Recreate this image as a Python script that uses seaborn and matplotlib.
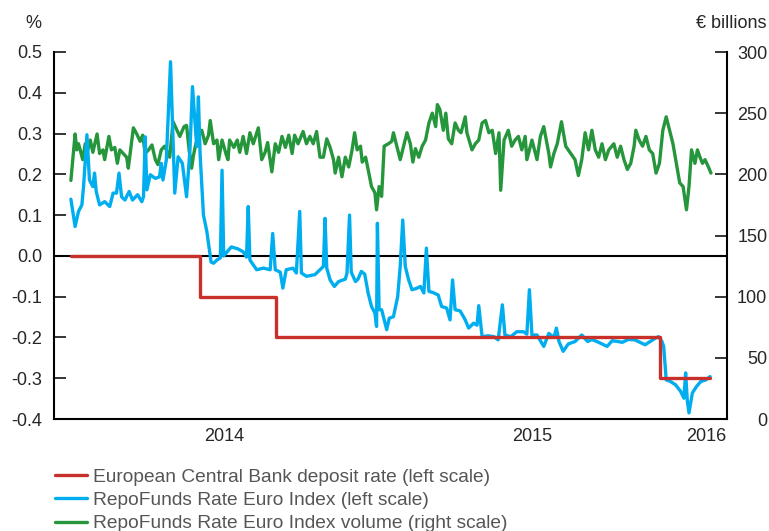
import pandas as pd
import matplotlib
matplotlib.use("Agg")
import matplotlib.pyplot as plt
import matplotlib.dates as mdates
from matplotlib.lines import Line2D
from matplotlib.ticker import FixedLocator, FuncFormatter, NullFormatter
import seaborn as sns

sns.set_style("white")
plt.rcParams['font.family'] = ['Liberation Sans', 'DejaVu Sans']
plt.rcParams['axes.unicode_minus'] = False

# === DATA ===
START = pd.Timestamp("2014-01-01")

# ECB deposit rate, % (step changes)
ECB_DAYS = [0, 153, 243, 698, 757]
ECB_RATE = [0.0, -0.1, -0.2, -0.3, -0.3]

# RepoFunds Rate Euro Index, %
REPO_DAYS = [
    0, 5, 9, 13, 15, 19, 22, 26, 28, 30,
    34, 40, 46, 50, 54, 57, 60, 64, 69, 73,
    79, 84, 86, 88, 90, 94, 100, 105, 107, 109,
    113, 118, 123, 127, 132, 137, 141, 144, 149, 151,
    153, 157, 161, 166, 169, 173, 177, 179, 181, 185,
    190, 198, 204, 208, 210, 212, 220, 228, 236, 239,
    242, 248, 251, 255, 263, 267, 271, 273, 279, 289,
    295, 299, 301, 303, 307, 312, 317, 325, 327, 330,
    332, 337, 340, 344, 348, 352, 356, 360, 362, 363,
    365, 368, 371, 374, 377, 382, 387, 390, 393, 396,
    400, 404, 409, 414, 418, 421, 424, 429, 435, 439,
    445, 449, 452, 455, 461, 467, 471, 477, 481, 483,
    487, 494, 501, 506, 511, 514, 521, 528, 536, 540,
    543, 546, 552, 560, 566, 572, 575, 578, 583, 589,
    597, 605, 612, 617, 623, 635, 641, 648, 653, 660,
    668, 674, 680, 686, 692, 696, 700, 702, 705, 710,
    716, 722, 726, 728, 730, 732, 736, 741, 746, 752,
    757,
]
REPO_RATE = [
    0.139, 0.072, 0.109, 0.125, 0.170, 0.297, 0.186, 0.170, 0.203, 0.158,
    0.125, 0.133, 0.121, 0.154, 0.154, 0.203, 0.145, 0.137, 0.158, 0.137,
    0.150, 0.133, 0.145, 0.292, 0.162, 0.199, 0.190, 0.194, 0.227, 0.186,
    0.235, 0.476, 0.154, 0.243, 0.227, 0.145, 0.260, 0.415, 0.268, 0.390,
    0.250, 0.100, 0.060, -0.015, -0.018, -0.010, -0.005, 0.210, 0.000, 0.010,
    0.022, 0.017, 0.010, -0.003, 0.121, -0.010, -0.034, -0.030, -0.034, 0.055,
    -0.034, -0.040, -0.079, -0.034, -0.030, -0.042, 0.109, -0.042, -0.050, -0.046,
    -0.034, -0.026, 0.092, -0.030, -0.059, -0.075, -0.063, -0.057, -0.042, 0.100,
    -0.040, -0.063, -0.057, -0.038, -0.045, -0.091, -0.124, -0.140, -0.173, 0.080,
    -0.132, -0.132, -0.157, -0.181, -0.153, -0.149, -0.100, -0.026, 0.088, -0.026,
    -0.059, -0.083, -0.080, -0.075, -0.091, 0.019, -0.087, -0.090, -0.096, -0.124,
    -0.128, -0.157, -0.059, -0.132, -0.135, -0.157, -0.177, -0.165, -0.170, -0.122,
    -0.198, -0.196, -0.198, -0.206, -0.120, -0.194, -0.198, -0.186, -0.186, -0.192,
    -0.083, -0.194, -0.194, -0.222, -0.190, -0.200, -0.177, -0.210, -0.234, -0.216,
    -0.210, -0.194, -0.210, -0.205, -0.210, -0.222, -0.208, -0.210, -0.212, -0.205,
    -0.206, -0.212, -0.218, -0.210, -0.202, -0.198, -0.210, -0.222, -0.304, -0.308,
    -0.316, -0.332, -0.349, -0.287, -0.355, -0.385, -0.336, -0.320, -0.308, -0.304,
    -0.296,
]

# RepoFunds Rate Euro Index volume, EUR billions
VOL_DAYS = [
    0, 5, 7, 9, 11, 14, 17, 20, 23, 26,
    31, 34, 38, 40, 45, 48, 52, 55, 58, 62,
    66, 68, 74, 78, 82, 85, 88, 92, 96, 100,
    103, 107, 111, 115, 117, 121, 125, 129, 134, 137,
    140, 143, 145, 148, 151, 155, 159, 163, 165, 169,
    173, 175, 179, 184, 186, 188, 193, 197, 200, 204,
    208, 212, 216, 222, 226, 230, 233, 238, 242, 246,
    250, 254, 258, 262, 265, 269, 275, 279, 283, 287,
    291, 295, 299, 303, 307, 311, 313, 317, 321, 325,
    329, 333, 336, 339, 343, 345, 349, 352, 356, 360,
    362, 365, 368, 371, 376, 380, 382, 386, 390, 394,
    398, 402, 405, 408, 412, 416, 420, 424, 428, 432,
    434, 437, 441, 444, 447, 451, 455, 459, 462, 467,
    469, 475, 479, 483, 487, 491, 495, 499, 503, 507,
    509, 513, 518, 522, 526, 530, 534, 538, 540, 546,
    552, 556, 560, 566, 568, 572, 576, 581, 586, 592,
    597, 601, 605, 609, 613, 617, 621, 625, 629, 633,
    637, 643, 647, 651, 655, 659, 663, 667, 669, 673,
    677, 681, 685, 689, 693, 697, 701, 705, 709, 713,
    717, 721, 725, 729, 732, 735, 739, 742, 745, 748,
    751, 755, 758,
]
VOL_EUR_BN = [
    195, 233, 220, 225, 220, 212, 225, 220, 228, 218,
    233, 217, 220, 212, 231, 220, 222, 209, 220, 217,
    214, 205, 238, 233, 227, 232, 217, 220, 224, 212,
    208, 220, 223, 217, 214, 243, 237, 231, 239, 240,
    220, 205, 215, 225, 231, 236, 225, 232, 244, 225,
    228, 212, 228, 216, 212, 228, 222, 228, 218, 231,
    217, 234, 225, 238, 212, 218, 226, 202, 225, 218,
    231, 222, 232, 217, 232, 225, 235, 225, 231, 225,
    235, 214, 214, 229, 222, 212, 201, 214, 198, 214,
    206, 220, 234, 220, 223, 210, 214, 204, 190, 185,
    171, 190, 182, 223, 225, 227, 234, 223, 212, 223,
    234, 225, 210, 221, 214, 223, 228, 242, 250, 239,
    257, 253, 236, 250, 229, 225, 242, 236, 234, 247,
    234, 220, 225, 228, 242, 244, 234, 236, 217, 234,
    187, 228, 236, 223, 228, 231, 220, 231, 212, 228,
    212, 231, 239, 217, 206, 217, 225, 243, 223, 217,
    212, 199, 212, 234, 220, 236, 220, 214, 225, 212,
    220, 225, 214, 223, 212, 204, 209, 223, 236, 228,
    223, 231, 220, 217, 201, 209, 236, 247, 236, 225,
    209, 193, 190, 171, 190, 220, 209, 220, 214, 209,
    212, 206, 201,
]

YEAR_LABELS = ["2014", "2015", "2016"]
YEAR_LABEL_DATES = ["2014-07-01", "2015-07-01", "2016-01-24"]

LEGEND_LABELS = [
    "European Central Bank deposit rate (left scale)",
    "RepoFunds Rate Euro Index (left scale)",
    "RepoFunds Rate Euro Index volume (right scale)",
]

RED = "#c8312b"
BLUE = "#00aeef"
GREEN = "#26963c"
TEXT_GREY = "#555555"


def to_frame(days, values):
    return pd.DataFrame({"date": START + pd.to_timedelta(days, unit="D"), "value": values})


ecb = to_frame(ECB_DAYS, ECB_RATE)
repo = to_frame(REPO_DAYS, REPO_RATE)
vol = to_frame(VOL_DAYS, VOL_EUR_BN)

# === FIGURE ===
fig = plt.figure(figsize=(7.69, 5.31), dpi=100)
ax = fig.add_axes([54 / 769, 1 - 419 / 531, (727 - 54) / 769, (419 - 52) / 531])
ax2 = ax.twinx()

sns.lineplot(data=vol, x="date", y="value", ax=ax2, color=GREEN, linewidth=2.4)
ax.axhline(0, color="black", linewidth=1.5, zorder=1)
sns.lineplot(data=repo, x="date", y="value", ax=ax, color=BLUE, linewidth=2.4, zorder=2)
sns.lineplot(data=ecb, x="date", y="value", ax=ax, color=RED, linewidth=2.4,
             drawstyle="steps-post", zorder=3)

# left axis on top of the right one
ax.set_zorder(ax2.get_zorder() + 1)
ax.patch.set_visible(False)

ax.set_xlim(START - pd.Timedelta(days=20), START + pd.Timedelta(days=777))
ax.set_ylim(-0.4, 0.5)
ax2.set_ylim(0, 300)
for a in (ax, ax2):
    a.set_xlabel("")
    a.set_ylabel("")

ax.yaxis.set_major_locator(FixedLocator([-0.4 + 0.1 * i for i in range(10)]))
ax.yaxis.set_major_formatter(FuncFormatter(lambda v, p: f"{v:.1f}".replace("-0.0", "0.0")))
ax2.yaxis.set_major_locator(FixedLocator(range(0, 301, 50)))

ax.xaxis.set_major_locator(mdates.YearLocator())
ax.xaxis.set_minor_locator(mdates.MonthLocator())
ax.xaxis.set_major_formatter(NullFormatter())
ax.xaxis.set_minor_formatter(NullFormatter())

ax.tick_params(axis="x", which="major", direction="in", length=8, width=1.1, color="black")
ax.tick_params(axis="x", which="minor", direction="in", length=4.3, width=1.1, color="black")
ax.tick_params(axis="y", direction="in", length=8.8, width=1.1, color="black",
               pad=8.5, labelsize=13, left=True)
ax2.tick_params(axis="y", direction="in", length=8.8, width=1.1, color="black",
                pad=29, labelsize=13, right=True)
for lab in ax2.get_yticklabels():
    lab.set_horizontalalignment("right")

for s in ("top", "right"):
    ax.spines[s].set_visible(False)
for s in ("top", "left", "bottom"):
    ax2.spines[s].set_visible(False)
for a, s in ((ax, "left"), (ax, "bottom"), (ax2, "right")):
    a.spines[s].set_color("black")
    a.spines[s].set_linewidth(1.5)

for lab, d in zip(YEAR_LABELS, YEAR_LABEL_DATES):
    ax.text(pd.Timestamp(d), -0.049, lab, transform=ax.get_xaxis_transform(),
            ha="center", va="center", fontsize=13)

fig.text(33 / 769, 1 - 23 / 531, "%", ha="center", va="center", fontsize=13)
fig.text(767 / 769, 1 - 23 / 531, "€ billions", ha="right", va="center", fontsize=13)

handles = [Line2D([], [], color=c, linewidth=2.4) for c in (RED, BLUE, GREEN)]
fig.legend(handles, LEGEND_LABELS, loc="upper left",
           bbox_to_anchor=(55 / 769, 1 - 468.5 / 531), frameon=False,
           borderpad=0, borderaxespad=0, handlelength=1.65, handletextpad=0.35,
           labelspacing=0.3, fontsize=13.8, labelcolor=TEXT_GREY)

fig.savefig("out.png", dpi=100)
